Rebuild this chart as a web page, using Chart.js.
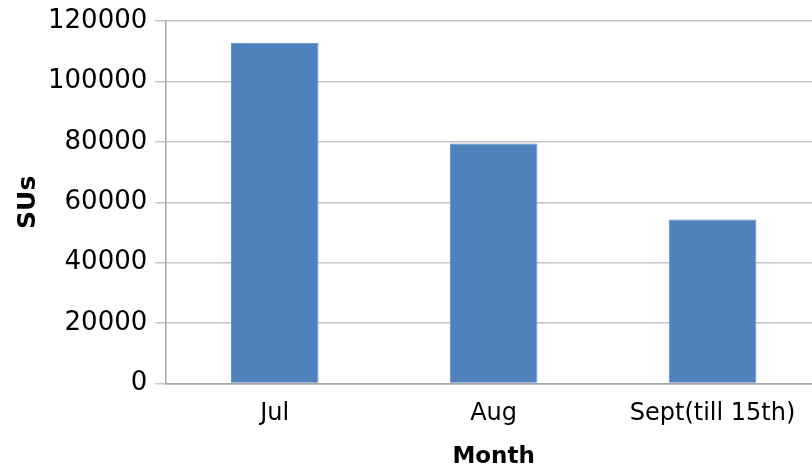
<!DOCTYPE html>
<html>
<head>
<meta charset="utf-8">
<script src="https://cdn.jsdelivr.net/npm/chart.js@4/dist/chart.umd.min.js"></script>
<style>
  html, body { margin: 0; padding: 0; background: #fff; overflow: hidden; }
  #wrap { width: 822px; height: 476px; position: relative; }
</style>
</head>
<body>
<div id="wrap"><canvas id="c"></canvas></div>
<script>
// Monthly SU counts
const months = ['Jul', 'Aug', 'Sept(till 15th)'];
const sus = [112800, 79500, 54300];
const yTicks = [0, 20000, 40000, 60000, 80000, 100000, 120000];

const FONT = 'DejaVu Sans';

new Chart(document.getElementById('c'), {
  type: 'bar',
  data: {
    labels: months,
    datasets: [{
      label: 'SUs',
      data: sus,
      backgroundColor: '#4f81bd',
      borderColor: '#5b8cc6',
      borderWidth: 1,
      categoryPercentage: 1.0,
      barPercentage: 0.4
    }]
  },
  options: {
    responsive: true,
    maintainAspectRatio: false,
    animation: false,
    layout: { padding: { top: 0, right: 0, bottom: 5, left: 13 } },
    plugins: { legend: { display: false }, tooltip: { enabled: false } },
    scales: {
      x: {
        grid: { display: false },
        border: { display: true, color: '#a6a6a6', width: 1.5 },
        ticks: { color: '#000', font: { family: FONT, size: 24 }, padding: 8, maxRotation: 0 },
        title: { display: true, text: 'Month', color: '#000', font: { family: FONT, size: 23, weight: 'bold' }, padding: { top: 7, bottom: 0 } }
      },
      y: {
        min: 0,
        max: 120000,
        afterBuildTicks: (axis) => { axis.ticks = yTicks.map(v => ({ value: v })); },
        grid: { color: '#c4c4c4', lineWidth: 1.5, tickLength: 10, drawTicks: true },
        border: { display: true, color: '#a6a6a6', width: 1.5 },
        ticks: { color: '#000', font: { family: FONT, size: 26, lineHeight: 1.0 }, padding: 8, callback: (v) => String(v) },
        title: { display: true, text: 'SUs', color: '#000', font: { family: FONT, size: 25, weight: 'bold' }, padding: { top: 0, bottom: -3 } }
      }
    }
  }
});
</script>
</body>
</html>
